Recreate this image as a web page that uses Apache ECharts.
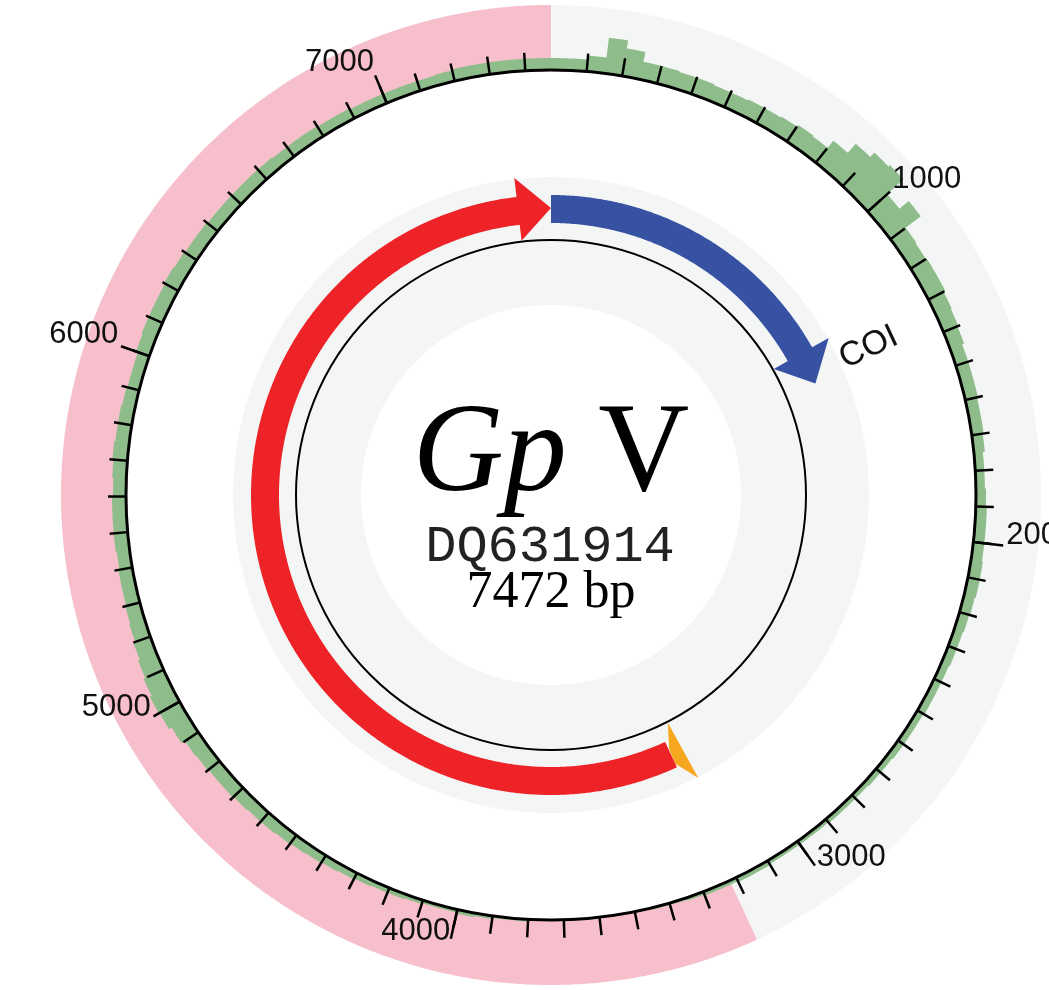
<!DOCTYPE html>
<html><head><meta charset="utf-8">
<script src="https://cdn.jsdelivr.net/npm/echarts@6/dist/echarts.min.js"></script>
<style>html,body{margin:0;padding:0;background:#fff}#c{width:1049px;height:990px}</style>
</head><body><div id="c"></div>
<script>
// ---------------- data ----------------
const GENOME_LENGTH = 7472;
const titleSpecies = 'Gp';
const titleNumeral = 'V';
const accession = 'DQ631914';
const lengthLabel = '7472 bp';

const tickLabels = [1000, 2000, 3000, 4000, 5000, 6000, 7000];

// outer band regions (grey / pink)
const regionStart = [0, 3220];
const regionEnd = [3220, 7472];

// genes
const geneNames = ['COI', ''];
const geneStart = [0, 3221];
const geneEnd = [1393, 7472];

// small feature (orange)
const trnaStart = [3165];
const trnaEnd = [3221];

// coverage, 50-bp bins starting at 0
const COV_BIN = 50;
const covValue = [
  12, 12, 16, 36, 28, 18, 18, 17, 17, 16,
  16, 17, 17, 18, 20, 19, 28, 40, 46, 48,
  26, 38, 19, 18, 19, 19, 17, 16, 15, 13,
  13, 13, 12, 12, 11, 9, 9, 10, 11, 11,
  11, 12, 12, 11, 10, 9, 9, 8, 8, 8,
  7, 7, 7, 6, 6, 5, 5, 5, 4, 4,
  4, 4, 5, 5, 4, 4, 3, 2, 2, 1,
  1, 1, 1, 1, 1, 1, 2, 2, 3, 4,
  3, 3, 4, 5, 5, 6, 7, 8, 9, 10,
  11, 12, 12, 13, 14, 14, 15, 16, 20, 23,
  24, 22, 20, 18, 16, 15, 14, 14, 13, 14,
  14, 14, 13, 14, 15, 14, 14, 13, 12, 12,
  14, 15, 15, 15, 16, 15, 14, 14, 13, 13,
  13, 13, 13, 12, 12, 12, 11, 11, 10, 10,
  10, 10, 10, 11, 12, 12, 12, 12, 12, 12
];

// ---------------- layout / style ----------------
const CENTER = [551, 495];
const R_AXIS = 425, R_OUT = 490;
const R_INNER_DISC = 190, R_GREY_OUT = 318, R_INNER_LINE = 255;
const BODY_IN = 272, BODY_OUT = 300, HEAD_IN = 256, HEAD_OUT = 319, TIP_R = 287;
const HEAD_LEN = 137;
const regionColors = ['#f4f6f5', '#f7bfcb'];
const geneColors = ['#3852a3', '#ee2327'];
const trnaColor = '#f6a71f';
const covColor = '#8ebd8b';
const greyFill = '#f4f6f5';

const minorTicks = [];
for (let v = 100; v < GENOME_LENGTH; v += 100) minorTicks.push(v);

function arc(api, r, a, b, step) {
  const n = Math.max(2, Math.ceil(Math.abs(b - a) / step));
  const pts = [];
  for (let i = 0; i <= n; i++) pts.push(api.coord([r, a + (b - a) * i / n]));
  return pts;
}
function band(api, r0, r1, a, b) {
  return arc(api, r1, a, b, 8).concat(arc(api, r0, b, a, 8));
}
function dist(p, q) { return Math.hypot(p[0] - q[0], p[1] - q[1]); }

const chart = echarts.init(document.getElementById('c'), null, {renderer: 'canvas'});

function angleAxisBase(idx) {
  return {
    polarIndex: idx, type: 'value', min: 0, max: GENOME_LENGTH, startAngle: 90, clockwise: true,
    splitLine: {show: false}, splitArea: {show: false}, axisLabel: {show: false}
  };
}

const option = {
  animation: false,
  backgroundColor: '#ffffff',
  polar: [
    {center: CENTER, radius: R_AXIS},
    {center: CENTER, radius: R_AXIS},
    {center: CENTER, radius: R_OUT}
  ],
  angleAxis: [
    Object.assign(angleAxisBase(0), {
      z: 10, interval: 100,
      axisLine: {show: true, lineStyle: {color: '#000', width: 3}},
      axisTick: {show: true, inside: false, length: 18, customValues: minorTicks,
                 lineStyle: {color: '#000', width: 2.5}}
    }),
    Object.assign(angleAxisBase(1), {
      z: 10, interval: 1000,
      axisLine: {show: false},
      axisTick: {show: true, inside: false, length: 30, customValues: tickLabels,
                 lineStyle: {color: '#000', width: 2.5}}
    }),
    Object.assign(angleAxisBase(2), {show: false})
  ],
  radiusAxis: [
    {polarIndex: 0, type: 'value', min: 0, max: R_AXIS, show: false},
    {polarIndex: 1, type: 'value', min: 0, max: R_AXIS, show: false},
    {polarIndex: 2, type: 'value', min: 0, max: R_OUT, show: false}
  ],
  series: [
    { // background bands
      type: 'custom', coordinateSystem: 'polar', polarIndex: 2, z: 1, silent: true,
      data: [[0, 0]],
      renderItem: function (params, api) {
        const c = api.coord([0, 0]);
        const children = regionStart.map(function (s, i) {
          return {type: 'polygon', shape: {points: band(api, R_AXIS, R_OUT, s, regionEnd[i])},
                  style: {fill: regionColors[i]}};
        });
        children.push({type: 'ring', shape: {cx: c[0], cy: c[1],
          r: dist(api.coord([R_GREY_OUT, 0]), c), r0: dist(api.coord([R_INNER_DISC, 0]), c)},
          style: {fill: greyFill}});
        return {type: 'group', children: children};
      }
    },
    { // coverage histogram
      type: 'custom', coordinateSystem: 'polar', polarIndex: 2, z: 2, silent: true,
      data: [[0, 0]],
      renderItem: function (params, api) {
        let pts = [];
        covValue.forEach(function (v, i) {
          const s = i * COV_BIN, e = Math.min(s + COV_BIN, GENOME_LENGTH);
          pts = pts.concat(arc(api, R_AXIS + v, s, e, 10));
        });
        pts = pts.concat(arc(api, R_AXIS, GENOME_LENGTH, 0, 10));
        return {type: 'polygon', shape: {points: pts}, style: {fill: covColor}};
      }
    },
    { // inner circle + genes
      type: 'custom', coordinateSystem: 'polar', polarIndex: 2, z: 3, silent: true,
      data: [[0, 0]],
      renderItem: function (params, api) {
        const c = api.coord([0, 0]);
        const children = [{type: 'circle', shape: {cx: c[0], cy: c[1], r: dist(api.coord([R_INNER_LINE, 0]), c)},
          style: {fill: null, stroke: '#000', lineWidth: 2}}];
        trnaStart.forEach(function (s, i) {
          const e = trnaEnd[i], len = e - s;
          children.push({type: 'polygon', shape: {points: [
            api.coord([HEAD_IN, s + 0.13 * len]),
            api.coord([BODY_IN + 8, e - 0.05 * len]),
            api.coord([BODY_OUT - 4, e]),
            api.coord([HEAD_OUT, s])
          ]}, style: {fill: trnaColor}});
        });
        geneStart.forEach(function (s, i) {
          const e = geneEnd[i], hb = e - HEAD_LEN;
          let pts = arc(api, BODY_OUT, s, hb, 6);
          pts.push(api.coord([HEAD_OUT, hb]), api.coord([TIP_R, e]), api.coord([HEAD_IN, hb]));
          pts = pts.concat(arc(api, BODY_IN, hb, s, 6));
          children.push({type: 'polygon', shape: {points: pts}, style: {fill: geneColors[i]}});
        });
        return {type: 'group', children: children};
      }
    },
    { // labels
      type: 'custom', coordinateSystem: 'polar', polarIndex: 2, z: 4, silent: true,
      data: [[0, 0]],
      renderItem: function (params, api) {
        const c = api.coord([0, 0]);
        const children = tickLabels.map(function (v) {
          const p = api.coord([R_AXIS + 33, v]);
          return {type: 'text', x: p[0], y: p[1] + 5, style: {
            text: String(v), fontSize: 31, fontFamily: 'Liberation Sans', fill: '#111',
            align: p[0] >= c[0] ? 'left' : 'right', verticalAlign: 'bottom'}};
        });
        geneNames.forEach(function (name, i) {
          if (!name) return;
          const mid = geneEnd[i] - 42;
          const p = api.coord([R_GREY_OUT + 2, mid]);
          const rot = Math.atan2(-(p[1] - c[1]), p[0] - c[0]);
          children.push({type: 'text', x: p[0], y: p[1], rotation: rot, style: {
            text: name, fontSize: 34, fontFamily: 'Liberation Sans', fill: '#111',
            align: 'left', verticalAlign: 'middle'}});
        });
        return {type: 'group', children: children};
      }
    }
  ],
  graphic: [
    {type: 'text', x: 551, y: 457, z: 100, style: {
      text: '{i|' + titleSpecies + '}{n| ' + titleNumeral + '}',
      align: 'center', verticalAlign: 'middle',
      rich: {
        i: {fontFamily: 'Liberation Serif', fontStyle: 'italic', fontSize: 126, fill: '#000'},
        n: {fontFamily: 'Liberation Serif', fontSize: 126, fill: '#000'}
      }}},
    {type: 'text', x: 550, y: 547, z: 100, style: {
      text: accession, fontFamily: 'Liberation Mono', fontSize: 52, fill: '#222',
      align: 'center', verticalAlign: 'middle'}},
    {type: 'text', x: 551, y: 593, z: 100, style: {
      text: lengthLabel, fontFamily: 'Liberation Serif', fontSize: 52, fill: '#000',
      align: 'center', verticalAlign: 'middle'}}
  ]
};
chart.setOption(option);
</script>
</body></html>
